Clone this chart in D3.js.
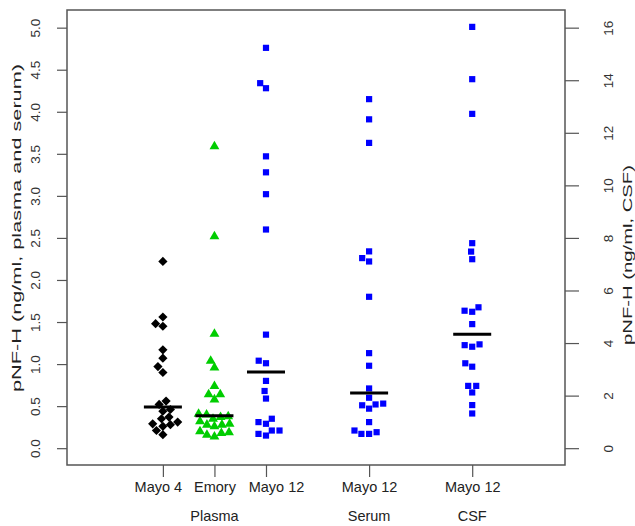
<!DOCTYPE html>
<html>
<head>
<meta charset="utf-8">
<script src="https://cdn.jsdelivr.net/npm/d3@7"></script>
<style>
  body { margin: 0; background: #fff; }
  svg { font-family: "Liberation Sans", Arial, Helvetica, sans-serif; }
</style>
</head>
<body>
<svg id="chart"></svg>
<script>
// cohort labels under each column, and where they sit on the x scale
const cohorts = ["Mayo 4", "Emory", "Mayo 12", "Mayo 12", "Mayo 12"];
const cohortPos = [1, 2, 3, 5, 7];
const sampleTypes = ["Plasma", "Serum", "CSF"];
const sampleTypePos = [2, 5, 7];

// pNF-H values (ng/ml)
const mayo4Plasma = [2.22, 1.56, 1.48, 1.45, 1.17, 1.07, 0.97, 0.90, 0.56, 0.52,
  0.46, 0.44, 0.37, 0.35, 0.31, 0.29, 0.28, 0.26, 0.21, 0.16];
const emoryPlasma = [3.60, 2.53, 1.37, 1.05, 0.97, 0.75, 0.65, 0.65, 0.59, 0.42,
  0.41, 0.39, 0.38, 0.36, 0.33, 0.30, 0.29, 0.29, 0.27, 0.21, 0.20, 0.19, 0.17, 0.15];
const mayo12Plasma = [4.76, 4.34, 4.28, 3.47, 3.28, 3.02, 2.60, 1.35, 1.04, 1.01,
  0.80, 0.68, 0.59, 0.35, 0.31, 0.29, 0.21, 0.21, 0.17, 0.15];
const mayo12Serum = [4.15, 3.91, 3.63, 2.34, 2.26, 2.22, 1.80, 1.13, 0.98, 0.71,
  0.60, 0.53, 0.52, 0.51, 0.47, 0.31, 0.21, 0.19, 0.17, 0.17];
// CSF is on the right-hand axis
const mayo12Csf = [16.03, 14.04, 12.72, 7.80, 7.48, 7.19, 5.36, 5.23, 5.19, 4.72,
  3.95, 3.92, 3.86, 3.23, 3.10, 2.37, 2.37, 2.12, 1.64, 1.32];

const leftTicks = d3.range(0, 5.01, 0.5);
const rightTicks = d3.range(0, 17, 2);

const width = 635, height = 526;
const box = { left: 67, right: 565, top: 10, bottom: 465 };

const svg = d3.select('#chart').attr('width', width).attr('height', height);

const x = d3.scaleLinear().domain([-0.86, 8.8]).range([box.left, box.right]);
const yLeft = d3.scaleLinear().domain([-0.2, 5.21]).range([box.bottom, box.top]);
const yRight = d3.scaleLinear().domain([-0.2 * 3.2, 5.21 * 3.2]).range([box.bottom, box.top]);

// simple beeswarm: each point goes as close to the centre as it can without overlapping
function swarm(values, yScale, d) {
  const pts = values.map(v => ({ v: v, y: yScale(v), dx: 0 }));
  const order = pts.slice().sort((a, b) => a.v - b.v);
  const placed = [];
  order.forEach(p => {
    const cands = [0];
    placed.forEach(q => {
      const dy = Math.abs(p.y - q.y);
      if (dy < d) {
        const off = Math.sqrt(d * d - dy * dy);
        cands.push(q.dx + off, q.dx - off);
      }
    });
    cands.sort((a, b) => Math.abs(a) - Math.abs(b) || a - b);
    p.dx = cands.find(c => placed.every(q => Math.hypot(c - q.dx, p.y - q.y) >= d - 1e-6));
    placed.push(p);
  });
  return pts;
}

const series = [
  { values: mayo4Plasma, pos: cohortPos[0], y: yLeft, shape: 'diamond', color: '#000000' },
  { values: emoryPlasma, pos: cohortPos[1], y: yLeft, shape: 'triangle', color: '#00CD00' },
  { values: mayo12Plasma, pos: cohortPos[2], y: yLeft, shape: 'square', color: '#0000FF' },
  { values: mayo12Serum, pos: cohortPos[3], y: yLeft, shape: 'square', color: '#0000FF' },
  { values: mayo12Csf, pos: cohortPos[4], y: yRight, shape: 'square', color: '#0000FF' }
];

const shapes = {
  diamond: 'M0,-4.6L4.6,0L0,4.6L-4.6,0Z',
  triangle: d3.symbol().type(d3.symbolTriangle).size(42)(),
  square: 'M-3.1,-3.1H3.1V3.1H-3.1Z'
};

const plot = svg.append('g');

series.forEach(s => {
  const pts = swarm(s.values, s.y, 7.7);
  plot.append('g')
    .selectAll('path')
    .data(pts)
    .enter()
    .append('path')
    .attr('d', shapes[s.shape])
    .attr('transform', d => `translate(${x(s.pos) + d.dx},${d.y + (s.shape === 'triangle' ? 1 : 0)})`)
    .attr('fill', s.color);

  // median bar
  const med = s.y(d3.median(s.values));
  plot.append('line')
    .attr('x1', x(s.pos) - 19).attr('x2', x(s.pos) + 19)
    .attr('y1', med).attr('y2', med)
    .attr('stroke', '#000').attr('stroke-width', 3);
});

// frame
svg.append('rect')
  .attr('x', box.left).attr('y', box.top)
  .attr('width', box.right - box.left).attr('height', box.bottom - box.top)
  .attr('fill', 'none').attr('stroke', '#555').attr('stroke-width', 1.5);

// left axis, labels turned to read bottom-up like R's default
const leftAxis = svg.append('g')
  .attr('transform', `translate(${box.left},0)`)
  .call(d3.axisLeft(yLeft).tickValues(leftTicks).tickFormat(d3.format('.1f')).tickSize(10).tickPadding(0));
leftAxis.select('.domain').remove();
leftAxis.selectAll('line').attr('stroke', '#555').attr('stroke-width', 1.2);
leftAxis.selectAll('.tick text')
  .attr('x', 0).attr('y', 0).attr('dy', null)
  .attr('transform', 'translate(-32,0) rotate(-90)')
  .attr('text-anchor', 'middle')
  .attr('dominant-baseline', 'central')
  .style('font-size', '13.5px').attr('fill', '#333');

// right axis
const rightAxis = svg.append('g')
  .attr('transform', `translate(${box.right},0)`)
  .call(d3.axisRight(yRight).tickValues(rightTicks).tickSize(14).tickPadding(0));
rightAxis.select('.domain').remove();
rightAxis.selectAll('line').attr('stroke', '#555').attr('stroke-width', 1.2);
rightAxis.selectAll('.tick text')
  .attr('x', 0).attr('y', 0).attr('dy', null)
  .attr('transform', 'translate(43,0) rotate(-90)')
  .attr('text-anchor', 'middle')
  .attr('dominant-baseline', 'central')
  .style('font-size', '13.5px').attr('fill', '#333');

// bottom axis; the outer labels were nudged apart in the original so they don't touch
const labelNudge = [-5, 0, 10, 0, 0];
const bottomAxis = svg.append('g')
  .attr('transform', `translate(0,${box.bottom})`)
  .call(d3.axisBottom(x).tickValues(cohortPos).tickFormat((d, i) => cohorts[i]).tickSize(12).tickPadding(5));
bottomAxis.select('.domain').remove();
bottomAxis.selectAll('line').attr('stroke', '#555').attr('stroke-width', 1.2);
bottomAxis.selectAll('text')
  .attr('x', (d, i) => labelNudge[i])
  .style('font-size', '14.5px').attr('fill', '#222');

svg.append('g')
  .selectAll('text')
  .data(sampleTypes)
  .enter()
  .append('text')
  .attr('x', (d, i) => x(sampleTypePos[i]))
  .attr('y', 521)
  .attr('text-anchor', 'middle')
  .style('font-size', '14.5px')
  .attr('fill', '#222')
  .text(d => d);

// axis titles
svg.append('text')
  .attr('transform', 'translate(16,228) rotate(-90)')
  .attr('text-anchor', 'middle')
  .attr('dominant-baseline', 'central')
  .style('font-size', '13.5px').attr('fill', '#222')
  .attr('textLength', 328).attr('lengthAdjust', 'spacingAndGlyphs')
  .text('pNF-H (ng/ml, plasma and serum)');

svg.append('text')
  .attr('transform', 'translate(627,255) rotate(-90)')
  .attr('text-anchor', 'middle')
  .attr('dominant-baseline', 'central')
  .style('font-size', '13.5px').attr('fill', '#222')
  .attr('textLength', 180).attr('lengthAdjust', 'spacingAndGlyphs')
  .text('pNF-H (ng/ml, CSF)');
</script>
</body>
</html>
